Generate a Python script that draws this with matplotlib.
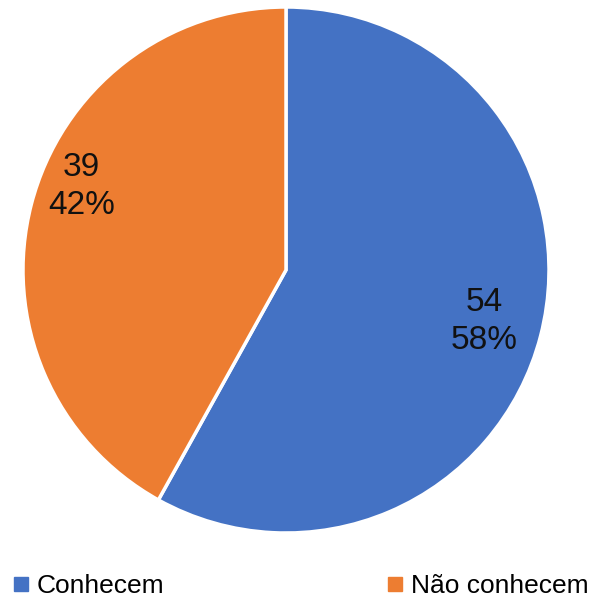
import matplotlib as mpl
mpl.use('Agg')
import matplotlib.pyplot as plt
from matplotlib.lines import Line2D
import numpy as np

labels = ["Conhecem", "Não conhecem"]
counts = [54, 39]
colors = ["#4472C4", "#ED7D31"]

plt.rcParams['font.family'] = ['Liberation Sans', 'DejaVu Sans']

W, H = 597, 598
fig = plt.figure(figsize=(W / 100, H / 100), dpi=100)

cx, cy, r = 286, 270, 263
ax = fig.add_axes([(cx - r) / W, (H - cy - r) / H, 2 * r / W, 2 * r / H])

total = sum(counts)


def fmt(pct):
    n = int(round(pct * total / 100.0))
    return "%d\n%d%%" % (n, round(pct))


wedges, _, autotexts = ax.pie(counts, colors=colors, startangle=90, counterclock=False,
                              autopct=fmt, pctdistance=0.78,
                              wedgeprops=dict(edgecolor='white', linewidth=2.5),
                              textprops=dict(fontsize=24, color='#111111', linespacing=1.3))

# Excel "best fit" placement of the orange label
t = autotexts[1]
ang = np.deg2rad(157.7)
t.set_position((0.84 * np.cos(ang), 0.84 * np.sin(ang)))
ax.set_xlim(-1, 1)
ax.set_ylim(-1, 1)
ax.set_aspect('equal')

handles = [Line2D([], [], marker='s', linestyle='none', markersize=9.4,
                  markerfacecolor=c, markeredgecolor=c) for c in colors]
fig.legend(handles, labels, loc='center left', bbox_to_anchor=(14 / W, 1 - 586 / H),
           ncol=2, frameon=False, fontsize=19, borderpad=0, borderaxespad=0,
           handlelength=0.5, handletextpad=0.35, columnspacing=8.5)

fig.savefig('out.png', dpi=100)
